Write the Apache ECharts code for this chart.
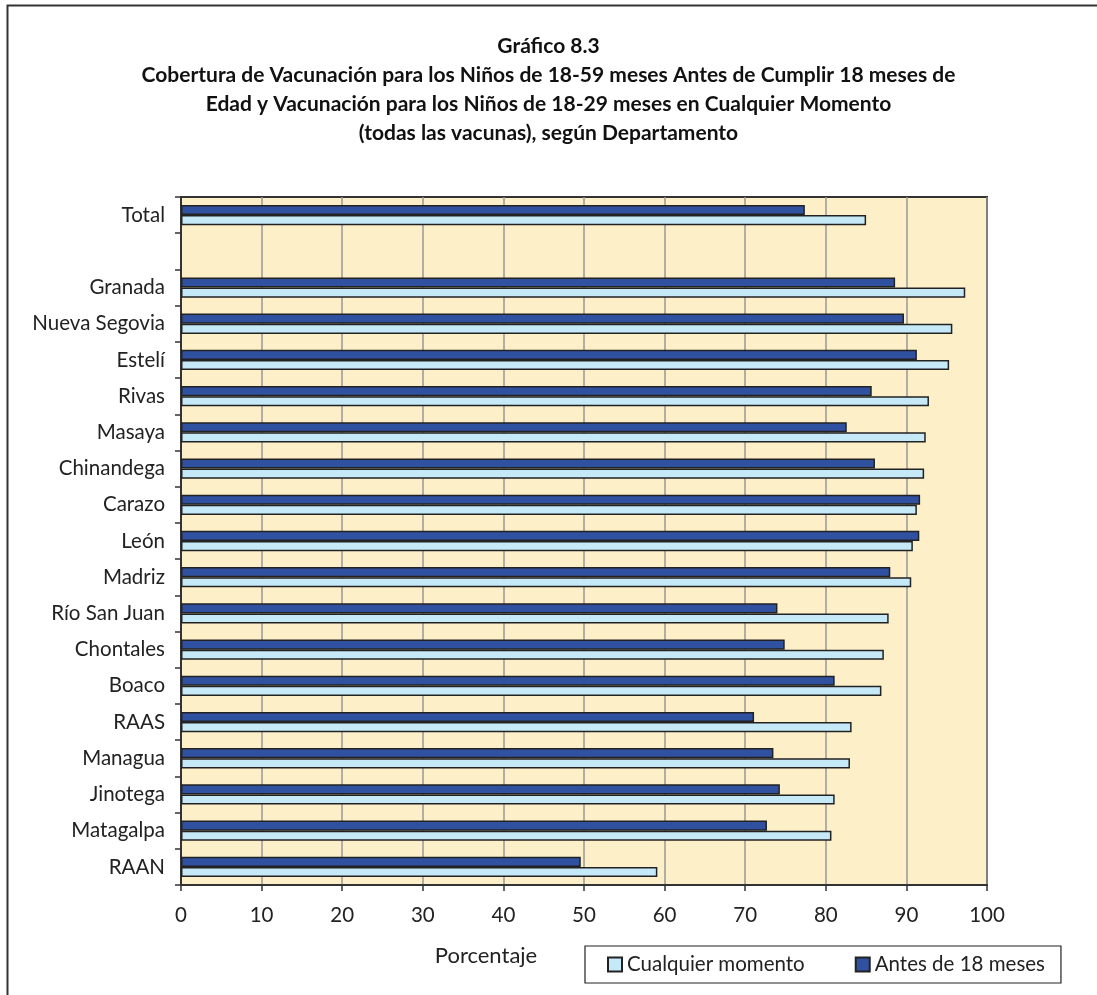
<!DOCTYPE html>
<html>
<head>
<meta charset="utf-8">
<script src="https://cdn.jsdelivr.net/npm/echarts@6/dist/echarts.min.js"></script>
<style>html,body{margin:0;padding:0;background:#fff}#c{width:1097px;height:995px}</style>
</head>
<body>
<div id="c"></div>
<script>
const titleLines = [
  'Gráfico 8.3',
  'Cobertura de Vacunación para los Niños de 18-59 meses Antes de Cumplir 18 meses de',
  'Edad y Vacunación para los Niños de 18-29 meses en Cualquier Momento',
  '(todas las vacunas), según Departamento'
];
const categories = ['Total', '', 'Granada', 'Nueva Segovia', 'Estelí', 'Rivas', 'Masaya', 'Chinandega', 'Carazo', 'León', 'Madriz', 'Río San Juan', 'Chontales', 'Boaco', 'RAAS', 'Managua', 'Jinotega', 'Matagalpa', 'RAAN'];
const antes18 = [77.4, null, 88.6, 89.7, 91.3, 85.7, 82.6, 86.1, 91.7, 91.6, 88.0, 74.0, 74.9, 81.1, 71.1, 73.5, 74.3, 72.7, 49.6];
const cualquier = [85.0, null, 97.3, 95.7, 95.3, 92.8, 92.4, 92.2, 91.3, 90.8, 90.6, 87.8, 87.2, 86.9, 83.2, 83.0, 81.1, 80.7, 59.1];
const seriesNames = ['Cualquier momento', 'Antes de 18 meses'];
const xAxisTitle = 'Porcentaje';

const FONT = 'Lato';
const chart = echarts.init(document.getElementById('c'), null, {renderer: 'canvas'});
chart.setOption({
  backgroundColor: '#ffffff',
  animation: false,
  title: {
    text: titleLines.join('\n'),
    left: 'center',
    top: 27,
    textStyle: {fontFamily: FONT, fontWeight: 'bold', fontSize: 21, lineHeight: 29, color: '#111'}
  },
  grid: {
    left: 181, right: 110, top: 197, bottom: 110,
    show: true, backgroundColor: '#FDEFC8', borderColor: '#333', borderWidth: 2
  },
  legend: {
    data: seriesNames,
    left: 585, top: 946,
    itemWidth: 14, itemHeight: 14, itemGap: 50,
    padding: [8, 16, 8, 22],
    borderColor: '#222', borderWidth: 1.2,
    icon: 'rect',
    textStyle: {fontFamily: FONT, fontSize: 20.5, color: '#222', padding: [0, 0, 0, 0]}
  },
  xAxis: {
    type: 'value', min: 0, max: 100, interval: 10,
    axisLine: {show: true, lineStyle: {color: '#333', width: 2}},
    axisTick: {show: true, length: 6, lineStyle: {color: '#333', width: 1.5}},
    axisLabel: {fontFamily: FONT, fontSize: 20.5, color: '#222', margin: 20},
    splitLine: {show: true, lineStyle: {color: '#999', width: 1.5}}
  },
  yAxis: {
    type: 'category', data: categories, inverse: true,
    axisLine: {show: true, lineStyle: {color: '#333', width: 2}},
    axisTick: {show: true, length: 6, lineStyle: {color: '#333', width: 1.5}},
    axisLabel: {fontFamily: FONT, fontSize: 20.5, color: '#222', margin: 16},
    splitLine: {show: false}
  },
  series: [
    {
      name: seriesNames[1], type: 'bar', data: antes18,
      barGap: '0%', barCategoryGap: '44%',
      itemStyle: {color: '#3050A0', borderColor: '#222', borderWidth: 1.5}
    },
    {
      name: seriesNames[0], type: 'bar', data: cualquier,
      barGap: '0%', barCategoryGap: '44%',
      itemStyle: {color: '#C6E9F8', borderColor: '#222', borderWidth: 1.5}
    }
  ],
  graphic: [
    {type: 'polyline', shape: {points: [[7.5, 995], [7.5, 5.5], [1097, 5.5]]}, style: {stroke: '#333', lineWidth: 2, fill: null}},
    {type: 'text', x: 486, y: 956, style: {text: xAxisTitle, fontFamily: FONT, fontSize: 22, fill: '#222', textAlign: 'center', textVerticalAlign: 'middle'}}
  ]
});
</script>
</body>
</html>
